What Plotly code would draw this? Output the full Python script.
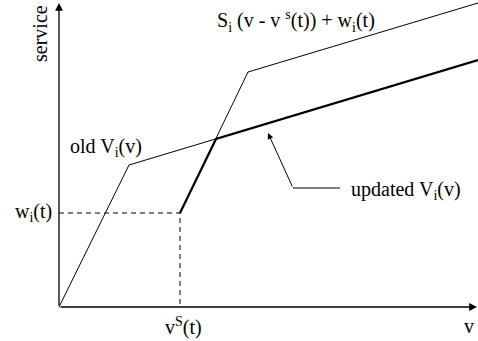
import plotly.graph_objects as go

# values in chart units (origin at the axes corner)
old_v_x = [0, 70, 419]
old_v_y = [0, 142, 247]
shifted_x = [121, 189, 419]
shifted_y = [94, 235, 304]
updated_x = [121, 157, 419]
updated_y = [94, 168, 247]
v_s = 121
w_i = 94

FONT = dict(family="Liberation Serif, Times New Roman, serif", size=20, color="black")

fig = go.Figure()
fig.add_trace(go.Scatter(x=old_v_x, y=old_v_y, mode="lines",
                         line=dict(color="black", width=1)))
fig.add_trace(go.Scatter(x=shifted_x, y=shifted_y, mode="lines",
                         line=dict(color="black", width=1)))
fig.add_trace(go.Scatter(x=updated_x, y=updated_y, mode="lines",
                         line=dict(color="black", width=2.2)))
# dashed guides to w_i(t) and v^s(t)
fig.add_trace(go.Scatter(x=[0, v_s, v_s], y=[w_i, w_i, 0], mode="lines",
                         line=dict(color="black", width=1, dash="5px,4px")))

# axes with arrows
for ax_, ay_, x_, y_ in [(0, 0, 0, 304), (0, 0, 418, 0)]:
    fig.add_annotation(x=x_, y=y_, ax=ax_, ay=ay_, xref="x", yref="y",
                       axref="x", ayref="y", showarrow=True, arrowhead=2,
                       arrowsize=1.2, arrowwidth=1.3, arrowcolor="black", text="")

# pointer to the updated curve
fig.add_shape(type="line", x0=234, y0=119, x1=281, y1=119,
              line=dict(color="black", width=1))
fig.add_annotation(x=209, y=174, ax=234, ay=119, xref="x", yref="y",
                   axref="x", ayref="y", showarrow=True, arrowhead=2,
                   arrowsize=1.2, arrowwidth=1, arrowcolor="black", text="")

labels = [
    ("service", -19, 273, "center", -90),
    ("S<sub>i</sub> (v - v <sup>s</sup>(t)) + w<sub>i</sub>(t)", 156, 286, "left", 0),
    ("old V<sub>i</sub>(v)", 9, 160, "left", 0),
    ("w<sub>i</sub>(t)", -46, 95, "left", 0),
    ("v<sup>S</sup>(t)", 104, -19, "left", 0),
    ("v", 410, -19, "center", 0),
    ("updated V<sub>i</sub>(v)", 290, 117, "left", 0),
]
for txt, x_, y_, anchor, ang in labels:
    fig.add_annotation(x=x_, y=y_, xref="x", yref="y", text=txt, showarrow=False,
                       xanchor=anchor, yanchor="middle", textangle=ang, font=FONT)

fig.update_layout(
    width=478, height=341, margin=dict(l=0, r=0, t=0, b=0),
    plot_bgcolor="white", paper_bgcolor="white", showlegend=False,
    xaxis=dict(range=[-59, 419], visible=False, fixedrange=True),
    yaxis=dict(range=[-34, 307], visible=False, fixedrange=True),
)
fig.write_html("out.html", config={"displayModeBar": False},
               post_script="document.body.style.margin='0';")
